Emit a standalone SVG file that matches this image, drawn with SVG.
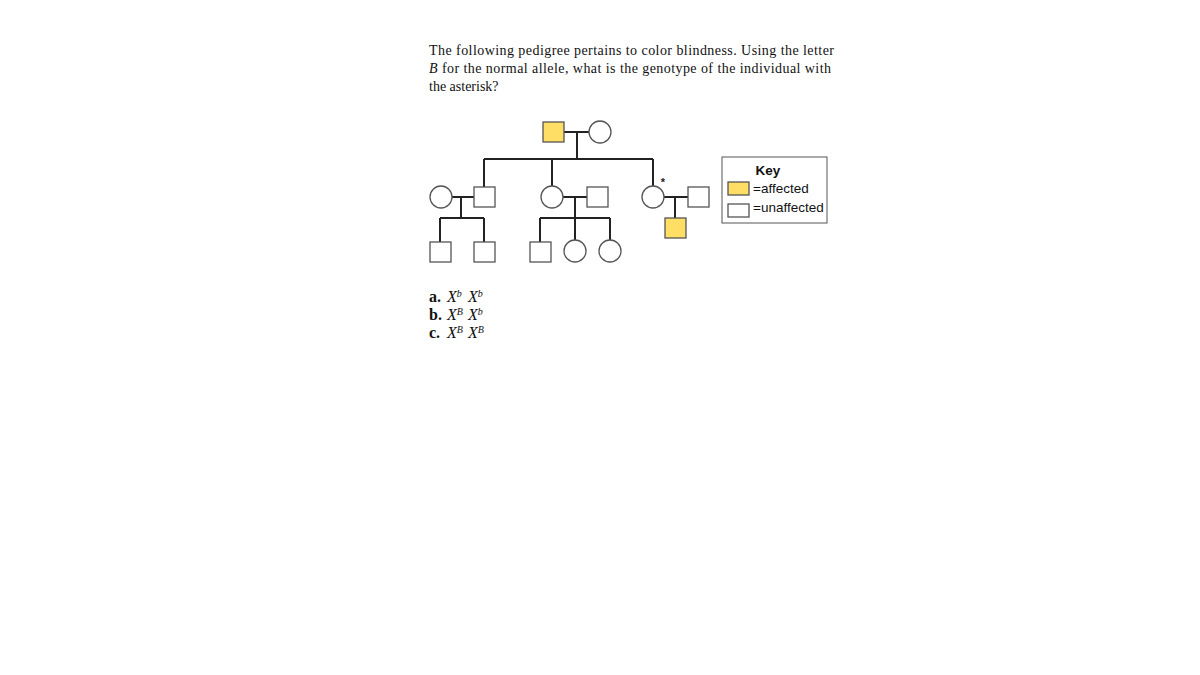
<svg xmlns="http://www.w3.org/2000/svg" width="1200" height="675" viewBox="0 0 1200 675">
<style>
.q{font-family:"Liberation Serif","Times New Roman",serif;font-size:14px;fill:#111}
.a{font-family:"Liberation Serif","Times New Roman",serif;font-size:16px;fill:#111}
.k{font-family:"Liberation Sans",Arial,sans-serif;font-size:13.5px;fill:#111}
.sh{stroke:#555;stroke-width:1.3;fill:#fff}
.aff{fill:#FFDE66}
.ln{stroke:#222;stroke-width:2;fill:none}
.x{font-style:italic}
.s{font-style:italic;font-size:10px}
</style>
<rect width="1200" height="675" fill="#fff"/>
<g id="question">
<text class="q" x="429" y="55" textLength="405">The following pedigree pertains to color blindness. Using the letter</text>
<text class="q" x="429" y="73" textLength="402"><tspan font-style="italic">B</tspan> for the normal allele, what is the genotype of the individual with</text>
<text class="q" x="429" y="91">the asterisk?</text>
</g>
<g id="connectors">
<path class="ln" d="M564 132H589M577 132V159M484 159H653M484 159V187M552 159V186M653 159V186"/>
<path class="ln" d="M452 197H474M461 197V218M440 218H484M440 218V242M484 218V242"/>
<path class="ln" d="M563 197H587M575 197V218M540 218H610M540 218V242M575 218V240M610 218V240"/>
<path class="ln" d="M664 197H688M675 197V218"/>
</g>
<g id="gen1">
<rect class="sh aff" x="543" y="122" width="21" height="20"/>
<circle class="sh" cx="600" cy="132" r="11"/>
</g>
<g id="gen2">
<circle class="sh" cx="441" cy="197" r="11"/>
<rect class="sh" x="474" y="187" width="21" height="20"/>
<circle class="sh" cx="552" cy="197" r="11"/>
<rect class="sh" x="587" y="187" width="21" height="20"/>
<circle class="sh" cx="653" cy="197" r="11"/>
<text x="663" y="186" font-family="Liberation Sans,Arial,sans-serif" font-size="11" font-weight="bold" text-anchor="middle" fill="#222">*</text>
<rect class="sh" x="688" y="187" width="21" height="20"/>
</g>
<g id="gen3">
<rect class="sh" x="430" y="242" width="21" height="20"/>
<rect class="sh" x="474" y="242" width="21" height="20"/>
<rect class="sh" x="530" y="242" width="21" height="20"/>
<circle class="sh" cx="575" cy="251" r="11"/>
<circle class="sh" cx="610" cy="251" r="11"/>
<rect class="sh aff" x="665" y="218" width="21" height="20"/>
</g>
<g id="key">
<rect x="722" y="157" width="105" height="66" fill="#fff" stroke="#555" stroke-width="1"/>
<text class="k" x="768" y="175" text-anchor="middle" font-weight="bold">Key</text>
<rect class="sh aff" x="728" y="182" width="21" height="13"/>
<text class="k" x="753" y="193">=affected</text>
<rect class="sh" x="728" y="204" width="21" height="13"/>
<text class="k" x="753" y="212">=unaffected</text>
</g>
<g id="answers">
<text class="a" x="429" y="302"><tspan font-weight="bold">a.</tspan><tspan class="x" x="447">X</tspan><tspan class="s" dy="-5">b</tspan><tspan class="x" x="468" dy="5">X</tspan><tspan class="s" dy="-5">b</tspan></text>
<text class="a" x="429" y="320"><tspan font-weight="bold">b.</tspan><tspan class="x" x="447">X</tspan><tspan class="s" dy="-5">B</tspan><tspan class="x" x="468" dy="5">X</tspan><tspan class="s" dy="-5">b</tspan></text>
<text class="a" x="429" y="338"><tspan font-weight="bold">c.</tspan><tspan class="x" x="447">X</tspan><tspan class="s" dy="-5">B</tspan><tspan class="x" x="468" dy="5">X</tspan><tspan class="s" dy="-5">B</tspan></text>
</g>
</svg>
